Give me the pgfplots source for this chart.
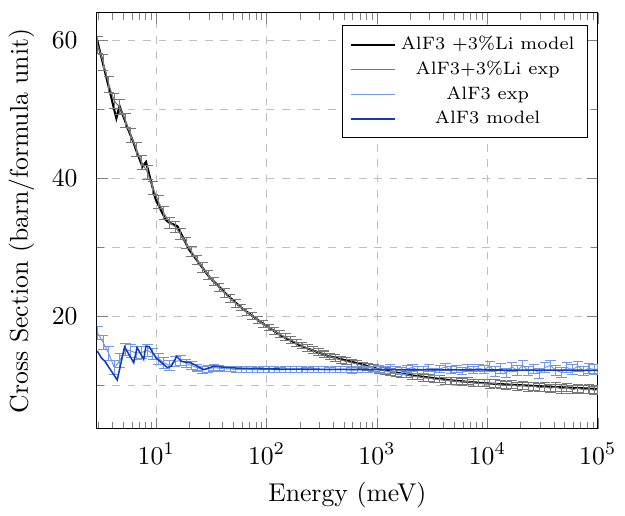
\documentclass[border=0pt]{standalone}
\usepackage{pgfplots}
\pgfplotsset{compat=1.18}
\usepackage{pgfplotstable}
\definecolor{expgray}{RGB}{120,120,120}
\definecolor{explblue}{RGB}{115,150,235}
\definecolor{moddblue}{RGB}{20,60,185}

\pgfplotstableread{
x y e
2.95 59.3 1.2
3.31 56.8 1.2
3.72 53.6 1.2
4.17 51.2 1.1
4.68 50.3 1.1
5.25 48.4 1.0
5.89 46.2 1.0
6.61 44.2 1.0
7.41 42.3 1.0
8.32 40.9 1.0
9.33 38.6 0.9
10.5 36.6 0.9
11.7 35.0 0.9
13.2 33.6 0.8
14.8 33.0 0.8
16.6 31.9 0.8
18.6 30.6 0.8
20.9 29.4 0.7
23.4 28.2 0.7
26.3 27.1 0.7
29.5 26.0 0.7
33.1 25.1 0.6
37.2 24.2 0.6
41.7 23.4 0.6
46.8 22.6 0.6
52.5 21.9 0.6
58.9 21.3 0.5
66.1 20.6 0.5
74.1 20.1 0.5
83.2 19.5 0.5
93.3 18.9 0.5
105 18.4 0.5
117 17.9 0.5
132 17.4 0.5
148 17.0 0.5
166 16.6 0.5
186 16.2 0.5
209 15.8 0.5
234 15.4 0.5
263 15.1 0.5
295 14.8 0.5
331 14.5 0.5
372 14.2 0.5
417 14.0 0.5
468 13.7 0.5
525 13.5 0.5
589 13.3 0.5
661 13.1 0.5
741 12.9 0.5
832 12.7 0.5
933 12.5 0.5
1047 12.3 0.5
1175 12.1 0.5
1318 12.0 0.5
1479 11.8 0.5
1660 11.7 0.5
1862 11.6 0.5
2089 11.3 0.5
2344 11.3 0.5
2630 11.1 0.5
2951 11.1 0.5
3311 10.9 0.5
3715 10.9 0.5
4169 10.7 0.5
4677 10.7 0.5
5248 10.6 0.5
5888 10.5 0.5
6607 10.6 0.5
7413 10.4 0.5
8318 10.3 0.5
9333 10.3 0.5
10471 10.2 0.6
11749 10.3 0.6
13183 10.1 0.6
14791 10.0 0.6
16596 10.1 0.6
18621 9.9 0.6
20893 10.0 0.6
23442 9.8 0.6
26303 9.9 0.6
29512 9.7 0.6
33113 9.8 0.6
37154 9.6 0.6
41687 9.8 0.6
46774 9.5 0.6
52481 9.7 0.6
58884 9.4 0.6
66069 9.6 0.6
74131 9.4 0.6
83176 9.5 0.6
93325 9.3 0.6
100000 9.4 0.6
}\liexp

\pgfplotstableread{
x y e
2.95 17.6 1.0
3.31 16.2 1.0
3.72 14.6 1.0
4.17 12.6 1.0
4.68 13.6 1.0
5.25 15.2 0.9
5.89 15.0 0.9
6.61 14.7 0.9
7.41 14.8 0.9
8.32 15.1 0.9
9.33 14.6 0.8
10.5 13.9 0.8
11.7 13.3 0.8
13.2 12.9 0.7
14.8 13.5 0.7
16.6 13.6 0.7
18.6 13.2 0.6
20.9 12.9 0.6
23.4 12.6 0.5
26.3 12.3 0.5
29.5 12.4 0.5
33.1 12.6 0.5
37.2 12.5 0.4
41.7 12.4 0.4
46.8 12.4 0.4
52.5 12.3 0.4
58.9 12.3 0.4
66.1 12.35 0.4
74.1 12.3 0.4
83.2 12.25 0.4
93.3 12.3 0.4
105 12.35 0.4
117 12.3 0.4
132 12.25 0.4
148 12.3 0.4
166 12.3 0.4
186 12.35 0.4
209 12.3 0.4
234 12.25 0.4
263 12.3 0.4
295 12.35 0.4
331 12.3 0.4
372 12.25 0.4
417 12.3 0.4
468 12.35 0.4
525 12.3 0.4
589 12.2 0.4
661 12.35 0.4
741 12.3 0.4
832 12.25 0.4
933 12.4 0.4
1047 12.4 0.5
1175 12.2 0.5
1318 12.5 0.5
1479 12.3 0.5
1660 12.1 0.5
1862 12.4 0.5
2089 12.6 0.5
2344 12.2 0.5
2630 12.3 0.5
2951 12.5 0.5
3311 12.0 0.5
3715 12.4 0.5
4169 12.7 0.5
4677 12.2 0.5
5248 12.4 0.5
5888 12.1 0.5
6607 12.6 0.5
7413 12.3 0.5
8318 12.5 0.5
9333 12.3 0.6
10471 12.8 0.7
11749 12.0 0.7
13183 12.5 0.7
14791 11.8 0.7
16596 12.7 0.7
18621 12.2 0.7
20893 12.9 0.7
23442 12.1 0.7
26303 12.4 0.7
29512 11.7 0.7
33113 12.6 0.7
37154 12.9 0.7
41687 12.2 0.7
46774 11.9 0.7
52481 12.6 0.7
58884 12.3 0.7
66069 12.8 0.7
74131 12.1 0.7
83176 12.5 0.7
93325 12.3 0.7
100000 12.4 0.7
}\alexp

\begin{document}
\begin{tikzpicture}
\begin{axis}[
  xmode=log,
  xmin=2.9, xmax=100000,
  ymin=3.7, ymax=64,
  ytick={20,40,60},
  minor ytick={10,30,50},
  xmajorgrids=true,
  ymajorgrids=true,
  yminorgrids=true,
  major grid style={dashed, gray!50},
  minor grid style={dashed, gray!50},
  xlabel={Energy (meV)},
  ylabel={Cross Section (barn/formula unit)},
  yticklabel style={xshift=-4pt},
  xticklabel style={yshift=-2pt},
  legend cell align=center,
  legend style={font=\scriptsize, at={(0.98,0.97)}, anchor=north east, row sep=-1pt},
]
\addplot[black, thick] coordinates {
(2.92,60) (3.5,54.9) (4.35,48.7) (4.65,50.5) (5.5,47.3) (6.25,45.1) (6.57,44.1)
(7.5,41.7) (8.07,42.4) (9.9,36.9) (12.2,34.0) (13.1,33.6) (15.5,33.1) (19.8,29.7)
(30,25.8) (45.3,22.9) (59.8,21.2) (90,19.1) (136,17.2) (206,15.7) (358,14.3)
(713,13.1) (1007,12.4) (2000,11.5) (5000,10.7) (10000,10.3) (30000,9.9) (100000,9.5)
};
\addlegendentry{AlF3 +3\%Li model}
\addplot[expgray, error bars/.cd, y dir=both, y explicit, error bar style={expgray}]
  table[x=x, y=y, y error=e] {\liexp};
\addlegendentry{AlF3+3\%Li exp}
\addplot[explblue, error bars/.cd, y dir=both, y explicit, error bar style={explblue}]
  table[x=x, y=y, y error=e] {\alexp};
\addlegendentry{AlF3 exp}
\addplot[moddblue, semithick] coordinates {
(2.92,15.0) (3.18,14.0) (3.41,13.55) (4.43,10.8) (5.16,15.6) (6.25,13.3) (6.7,15.5)
(7.69,13.8) (8.07,15.7) (8.65,15.6) (9.93,14.0) (11.0,13.4) (12.6,12.6) (13.7,12.8)
(15.3,14.2) (16.9,13.5) (20.5,13.3) (27.0,12.3) (33.2,12.8) (43.7,12.6) (57.8,12.5)
(100,12.4) (1000,12.3) (10000,12.25) (100000,12.2)
};
\addlegendentry{AlF3 model}
\end{axis}
\path ([yshift=5pt]current axis.north west);
\end{tikzpicture}
\end{document}
